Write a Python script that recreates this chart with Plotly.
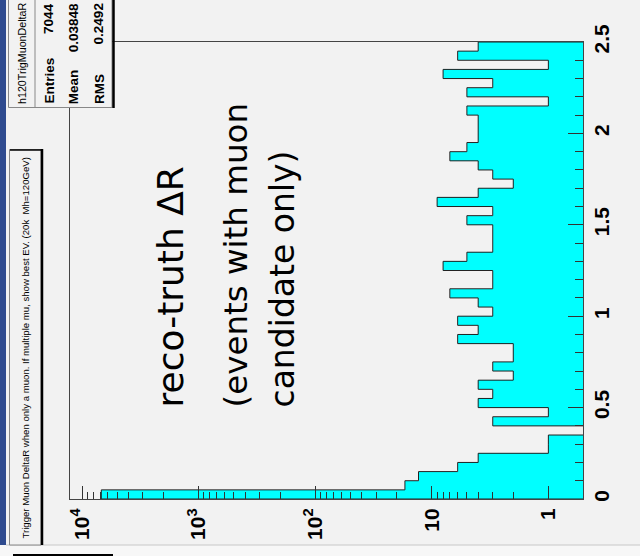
import numpy as np
import plotly.graph_objects as go

# ---------------- data ----------------
dr_min, dr_max, n_bins = 0.0, 2.5, 50
counts = [6833, 17, 13, 6, 4, 1, 1, 0, 3, 1,
          4, 3, 4, 2, 3, 2, 2, 6, 4, 6,
          3, 4, 7, 3, 3, 8, 5, 3, 3, 3,
          5, 3, 9, 4, 2, 3, 4, 7, 5, 4,
          4, 4, 5, 1, 5, 3, 8, 1, 6, 4]

dr_tickvals = [0, 0.5, 1, 1.5, 2, 2.5]
dr_ticktext = ["0", "0.5", "1", "1.5", "2", "2.5"]
count_tickvals = [1, 10, 100, 1000, 10000]
count_ticktext = ["1", "10", "10<sup>2</sup>", "10<sup>3</sup>", "10<sup>4</sup>"]
count_range = [4.103, -0.297]  # log10, reversed

stats_name = "h120TrigMuonDeltaR"
stats_labels = ["Entries", "Mean", "RMS"]
stats_values = ["7044", "0.03848", "0.2492"]
title_text = "Trigger Muon DeltaR when only a muon. If multiple mu, show best EV. (20k  Mh=120GeV)"
label_lines = ["reco-truth ΔR", "(events with muon", "candidate only)"]

# ---------------- derived ----------------
edges = np.linspace(dr_min, dr_max, n_bins + 1)
centers = (edges[:-1] + edges[1:]) / 2
width = (dr_max - dr_min) / n_bins
minor_vals = [m * 10 ** d for d in range(0, 5) for m in range(2, 10)
              if count_range[1] < np.log10(m * 10 ** d) < count_range[0]]

floor = 0.1
xs, ys = [floor], [edges[0]]
for i, c in enumerate(counts):
    v = c if c > 0 else floor
    xs += [v, v]
    ys += [edges[i], edges[i + 1]]
xs.append(floor)
ys.append(edges[-1])

# plot area in pixels
L, R, T, B = 70, 583, 42, 499
W, H = 640, 556


def fx(px):
    return (px - L) / (R - L)


def fy(py):
    return (B - py) / (B - T)


fig = go.Figure()
fig.add_trace(go.Bar(x=counts, y=centers, orientation="h", width=width,
                     marker=dict(color="#00ffff", line=dict(width=0)),
                     hoverinfo="skip"))
fig.add_trace(go.Scatter(x=xs, y=ys, mode="lines",
                         line=dict(color="#222222", width=1), hoverinfo="skip"))

tickfont = dict(family="Liberation Sans", size=21, color="black", weight="bold")

fig.update_layout(
    width=W, height=H,
    margin=dict(l=L, r=W - R, t=T, b=H - B, pad=0),
    paper_bgcolor="#f2f2f2", plot_bgcolor="#f2f2f2",
    showlegend=False, bargap=0,
    xaxis=dict(type="log", range=count_range, tickmode="array",
               tickvals=count_tickvals, ticktext=count_ticktext,
               tickangle=-90, ticks="inside", ticklen=13, tickcolor="#333",
               minor=dict(tickmode="array", tickvals=minor_vals, ticks="inside",
                          ticklen=7, tickcolor="#333"),
               showline=True, linecolor="#444", linewidth=1, mirror=True,
               showgrid=False, zeroline=False, tickfont=tickfont),
    yaxis=dict(range=[dr_min, dr_max], side="right", tickmode="array",
               tickvals=dr_tickvals, ticktext=dr_ticktext, tickangle=-90,
               ticks="inside", ticklen=15, tickcolor="#333",
               minor=dict(dtick=0.1, tick0=0, ticks="inside", ticklen=8,
                          tickcolor="#333"),
               showline=True, linecolor="#444", linewidth=1, mirror=True,
               showgrid=False, zeroline=False, tickfont=tickfont),
)

shapes = []
# blue strip on left
shapes.append(dict(type="rect", xref="paper", yref="paper", x0=fx(0), x1=fx(6),
                   y0=fy(545), y1=fy(0), fillcolor="#2f4b8f", line=dict(width=0),
                   layer="above"))
# bottom light strip
shapes.append(dict(type="rect", xref="paper", yref="paper", x0=fx(0), x1=fx(640),
                   y0=fy(556), y1=fy(545), fillcolor="#f7f7f7",
                   line=dict(width=0), layer="above"))
shapes.append(dict(type="line", xref="paper", yref="paper", x0=fx(6), x1=fx(640),
                   y0=fy(545), y1=fy(545), line=dict(color="#c8c8c8", width=1),
                   layer="above"))
shapes.append(dict(type="line", xref="paper", yref="paper", x0=fx(13), x1=fx(113),
                   y0=fy(555), y1=fy(555), line=dict(color="black", width=2),
                   layer="above"))
# title box
shapes.append(dict(type="rect", xref="paper", yref="paper", x0=fx(9.5), x1=fx(41),
                   y0=fy(545), y1=fy(149.5), fillcolor="#f2f2f2",
                   line=dict(color="#888", width=1), layer="above"))
shapes.append(dict(type="line", xref="paper", yref="paper", x0=fx(42), x1=fx(42),
                   y0=fy(545), y1=fy(149), line=dict(color="black", width=2.5),
                   layer="above"))
shapes.append(dict(type="line", xref="paper", yref="paper", x0=fx(10), x1=fx(43),
                   y0=fy(150), y1=fy(150), line=dict(color="black", width=1.5),
                   layer="above"))
# stats box
shapes.append(dict(type="rect", xref="paper", yref="paper", x0=fx(8.5), x1=fx(112),
                   y0=fy(107.5), y1=fy(-2), fillcolor="#f2f2f2",
                   line=dict(color="#888", width=1), layer="above"))
shapes.append(dict(type="line", xref="paper", yref="paper", x0=fx(113.5), x1=fx(113.5),
                   y0=fy(108), y1=fy(0), line=dict(color="black", width=2.5),
                   layer="above"))
shapes.append(dict(type="line", xref="paper", yref="paper", x0=fx(35), x1=fx(35),
                   y0=fy(107.5), y1=fy(0), line=dict(color="#888", width=1),
                   layer="above"))
fig.update_layout(shapes=shapes)

ann = []
# title
ann.append(dict(xref="paper", yref="paper", x=fx(24.5), y=fy(348), text=title_text,
                textangle=-90, showarrow=False, xanchor="center", yanchor="middle",
                font=dict(family="Liberation Sans", size=9.6, color="black")))
# stats
ann.append(dict(xref="paper", yref="paper", x=fx(22), y=fy(54), text=stats_name,
                textangle=-90, showarrow=False, xanchor="center", yanchor="middle",
                font=dict(family="Liberation Sans", size=10.7, color="black")))
for k, (lab, val) in enumerate(zip(stats_labels, stats_values)):
    xc = 48.5 + 25.2 * k
    ann.append(dict(xref="paper", yref="paper", x=fx(xc), y=fy(106), text=lab,
                    textangle=-90, showarrow=False, xanchor="center", yanchor="bottom",
                    font=dict(family="Liberation Sans", size=13.5, color="black",
                              weight="bold")))
    ann.append(dict(xref="paper", yref="paper", x=fx(xc), y=fy(1), text=val,
                    textangle=-90, showarrow=False, xanchor="center", yanchor="top",
                    font=dict(family="Liberation Sans", size=13.5, color="black",
                              weight="bold")))
# big labels
for txt, xc, size in zip(label_lines, [170, 235, 282], [36, 32.5, 33]):
    ann.append(dict(xref="paper", yref="paper", x=fx(xc), y=fy(410), text=txt,
                    textangle=-90, showarrow=False, xanchor="center", yanchor="bottom",
                    font=dict(family="DejaVu Sans", size=size, color="black")))
fig.update_layout(annotations=ann)

fig.write_html("out.html")
